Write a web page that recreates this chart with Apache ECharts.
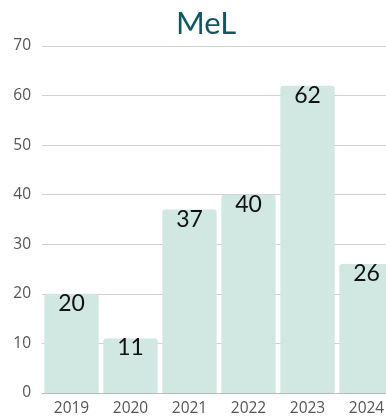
<!DOCTYPE html>
<html>
<head>
<meta charset="utf-8">
<script src="https://cdn.jsdelivr.net/npm/echarts@6/dist/echarts.min.js"></script>
<style>
  html, body { margin: 0; padding: 0; background: #fff; }
  #chart { width: 386px; height: 419px; }
</style>
</head>
<body>
<div id="chart"></div>
<script>
// Yearly counts
const years = ['2019', '2020', '2021', '2022', '2023', '2024'];
const counts = [20, 11, 37, 40, 62, 26];
const yTicks = { min: 0, max: 70, interval: 10 };

const chart = echarts.init(document.getElementById('chart'));
chart.setOption({
  animation: false,
  title: {
    text: 'MeL',
    left: 201,
    textAlign: 'center',
    top: 3,
    textStyle: { color: '#11575f', fontSize: 31, fontWeight: 'normal', fontFamily: 'Lato' }
  },
  grid: {
    left: 42, top: 46, bottom: 26, right: -10,
    containLabel: false,
    outerBoundsMode: 'none'
  },
  xAxis: {
    type: 'category',
    data: years,
    axisTick: { show: false },
    axisLine: { lineStyle: { color: '#bbbbbb' } },
    axisLabel: { color: '#555', fontSize: 15.5, margin: 8, fontFamily: 'Open Sans' }
  },
  yAxis: {
    type: 'value',
    min: yTicks.min,
    max: yTicks.max,
    interval: yTicks.interval,
    axisLabel: { color: '#555', fontSize: 15.5, margin: 11, fontFamily: 'Open Sans' },
    splitLine: { lineStyle: { color: '#d0d0d0' } }
  },
  series: [{
    type: 'bar',
    data: counts,
    barCategoryGap: '8%',
    itemStyle: { color: '#d1e7e1', borderRadius: [3, 3, 0, 0] },
    label: {
      show: true,
      position: 'insideTop',
      distance: -2,
      color: '#111',
      fontSize: 23,
      fontFamily: 'Lato'
    }
  }]
});
</script>
</body>
</html>
